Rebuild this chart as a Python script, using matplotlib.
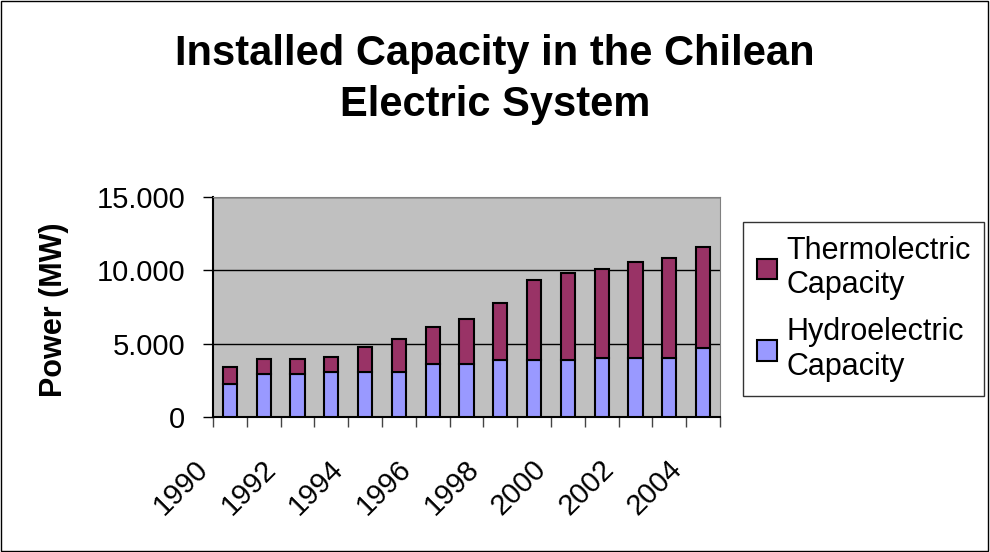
import numpy as np
import matplotlib
matplotlib.use("Agg")
import matplotlib.pyplot as plt
import matplotlib.transforms as mtrans
from matplotlib.patches import Rectangle

# data (MW)
years = list(range(1990, 2005))
hydro = [2280, 2920, 2920, 3080, 3080, 3080, 3610, 3610, 3890, 3890, 3890, 4040, 4040, 4040, 4730]
total = [3380, 3930, 3930, 4070, 4760, 5310, 6150, 6690, 7780, 9320, 9800, 10120, 10540, 10810, 11610]
thermo = [t - h for t, h in zip(total, hydro)]
ytick_vals = [0, 5000, 10000, 15000]
ytick_text = ["0", "5.000", "10.000", "15.000"]

plt.rcParams['font.family'] = ['Liberation Sans', 'DejaVu Sans']

fig = plt.figure(figsize=(9.9, 5.52), dpi=100)
ax = fig.add_axes([213 / 990, 1 - 417 / 552, 507 / 990, 220 / 552])
ax.set_facecolor("#C0C0C0")

x = np.arange(len(years))
b1 = ax.bar(x, hydro, width=0.42, color="#9999FF", edgecolor="black", linewidth=1.5, zorder=3)
b2 = ax.bar(x, thermo, bottom=hydro, width=0.42, color="#993366", edgecolor="black", linewidth=1.5, zorder=3)

ax.set_xlim(-0.5, len(years) - 0.5)
ax.set_ylim(0, 15000)
ax.set_yticks(ytick_vals)
ax.set_yticklabels(ytick_text, fontsize=21)
ax.yaxis.grid(True, color="black", linewidth=1)
ax.tick_params(axis="y", length=7, width=1, pad=13)

# category boundaries get tick marks, labels on every other category
ax.set_xticks(np.arange(-0.5, len(years), 1.0))
ax.set_xticklabels([])
ax.tick_params(axis="x", length=7, width=1, color="#444444")
ax.set_xticks(x[::2], minor=True)
ax.set_xticklabels([str(y) for y in years[::2]], minor=True, fontsize=21,
                   rotation=45, ha="right", va="top")
ax.tick_params(axis="x", which="minor", length=0, pad=27)
shift = mtrans.ScaledTranslation(-16 / 100, 0, fig.dpi_scale_trans)
for lab in ax.get_xticklabels(minor=True):
    lab.set_transform(lab.get_transform() + shift)

for s in ["top", "right"]:
    ax.spines[s].set_color("#808080")
ax.spines["left"].set_linewidth(1.5)
ax.spines["bottom"].set_linewidth(1.5)

fig.text(0.5, 1 - 34 / 552, "Installed Capacity in the Chilean\nElectric System",
         ha="center", va="top", fontsize=30, fontweight="bold", linespacing=1.35)
fig.text(54 / 990, 1 - 310 / 552, "Power (MW)", rotation=90, ha="center", va="center",
         fontsize=22, fontweight="bold")

leg = fig.legend([b2, b1], ["Thermolectric\nCapacity", "Hydroelectric\nCapacity"],
                 loc="upper left", bbox_to_anchor=(743 / 990, 1 - 222 / 552),
                 fontsize=22, frameon=True, fancybox=False, handlelength=0.66,
                 handleheight=0.66, handletextpad=0.3, labelspacing=0.55,
                 borderpad=0.45, borderaxespad=0)
leg.get_frame().set_edgecolor("black")
leg.get_frame().set_linewidth(1)
for h in leg.legend_handles:
    h.set_linewidth(1.5)

fig.patches.append(Rectangle((0.001, 0.001), 0.997, 0.997, transform=fig.transFigure,
                             fill=False, edgecolor="black", linewidth=1))

fig.savefig("out.png", dpi=100)
